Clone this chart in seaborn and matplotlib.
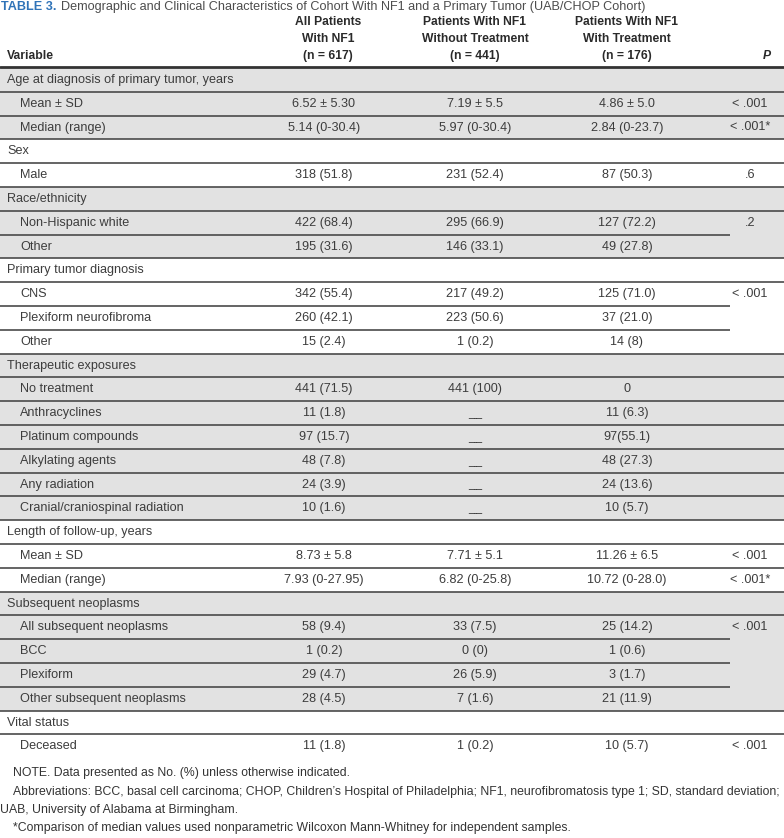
import matplotlib
matplotlib.use("Agg")
import matplotlib.pyplot as plt
from matplotlib import font_manager
import seaborn as sns
import pandas as pd

# ---------------- data ----------------
title_lead = "TABLE 3."
title_text = "Demographic and Clinical Characteristics of Cohort With NF1 and a Primary Tumor (UAB/CHOP Cohort)"

col_headers = [
    ["All Patients", "With NF1", "(n = 617)"],
    ["Patients With NF1", "Without Treatment", "(n = 441)"],
    ["Patients With NF1", "With Treatment", "(n = 176)"],
]

variables = ["Age at diagnosis of primary tumor, years", "Mean \u00b1 SD", "Median (range)",
             "Sex", "Male",
             "Race/ethnicity", "Non-Hispanic white", "Other",
             "Primary tumor diagnosis", "CNS", "Plexiform neurofibroma", "Other",
             "Therapeutic exposures", "No treatment", "Anthracyclines", "Platinum compounds",
             "Alkylating agents", "Any radiation", "Cranial/craniospinal radiation",
             "Length of follow-up, years", "Mean \u00b1 SD", "Median (range)",
             "Subsequent neoplasms", "All subsequent neoplasms", "BCC", "Plexiform",
             "Other subsequent neoplasms",
             "Vital status", "Deceased"]
levels = [0, 1, 1, 0, 1, 0, 1, 1, 0, 1, 1, 1, 0, 1, 1, 1, 1, 1, 1, 0, 1, 1, 0, 1, 1, 1, 1, 0, 1]
group_ids = [0, 0, 0, 1, 1, 2, 2, 2, 3, 3, 3, 3, 4, 4, 4, 4, 4, 4, 4, 5, 5, 5, 6, 6, 6, 6, 6, 7, 7]

all_patients = ["", "6.52 \u00b1 5.30", "5.14 (0-30.4)", "", "318 (51.8)", "", "422 (68.4)", "195 (31.6)",
                "", "342 (55.4)", "260 (42.1)", "15 (2.4)", "", "441 (71.5)", "11 (1.8)", "97 (15.7)",
                "48 (7.8)", "24 (3.9)", "10 (1.6)", "", "8.73 \u00b1 5.8", "7.93 (0-27.95)", "",
                "58 (9.4)", "1 (0.2)", "29 (4.7)", "28 (4.5)", "", "11 (1.8)"]
without_tx = ["", "7.19 \u00b1 5.5", "5.97 (0-30.4)", "", "231 (52.4)", "", "295 (66.9)", "146 (33.1)",
              "", "217 (49.2)", "223 (50.6)", "1 (0.2)", "", "441 (100)", "__", "__",
              "__", "__", "__", "", "7.71 \u00b1 5.1", "6.82 (0-25.8)", "",
              "33 (7.5)", "0 (0)", "26 (5.9)", "7 (1.6)", "", "1 (0.2)"]
with_tx = ["", "4.86 \u00b1 5.0", "2.84 (0-23.7)", "", "87 (50.3)", "", "127 (72.2)", "49 (27.8)",
           "", "125 (71.0)", "37 (21.0)", "14 (8)", "", "0", "11 (6.3)", "97(55.1)",
           "48 (27.3)", "24 (13.6)", "10 (5.7)", "", "11.26 \u00b1 6.5", "10.72 (0-28.0)", "",
           "25 (14.2)", "1 (0.6)", "3 (1.7)", "21 (11.9)", "", "10 (5.7)"]
p_values = ["", "< .001", "< .001*", "", ".6", "", ".2", "", "", "< .001", "", "", "", "", "", "",
            "", "", "", "", "< .001", "< .001*", "", "< .001", "", "", "", "", "< .001"]
# rows sharing one P value (separator lines stop before the P column)
p_span = [-1, -1, -1, -1, -1, -1, 1, 1, -1, 2, 2, 2, -1, -1, -1, -1, -1, -1, -1, -1, -1, -1, -1,
          3, 3, 3, 3, -1, -1]

footnotes = [
    "NOTE. Data presented as No. (%) unless otherwise indicated.",
    "Abbreviations: BCC, basal cell carcinoma; CHOP, Children\u2019s Hospital of Philadelphia; NF1, neurofibromatosis type 1; SD, standard deviation;",
    "UAB, University of Alabama at Birmingham.",
    "*Comparison of median values used nonparametric Wilcoxon Mann-Whitney for independent samples.",
]

df = pd.DataFrame({"variable": variables, "level": levels, "group": group_ids,
                   "all": all_patients, "without": without_tx, "with": with_tx,
                   "p": p_values, "span": p_span})

# ---------------- style ----------------
sns.set_theme(style="white")
names = {f.name for f in font_manager.fontManager.ttflist}
narrow = "Liberation Sans Narrow" if "Liberation Sans Narrow" in names else "Liberation Sans"
plt.rcParams["font.family"] = ["Liberation Sans", "DejaVu Sans"]

W, H = 784, 838
fig = plt.figure(figsize=(W / 100, H / 100), dpi=100)
ax = fig.add_axes([0, 0, 1, 1])
ax.set_xlim(0, W)
ax.set_ylim(H, 0)
ax.axis("off")
renderer = fig.canvas.get_renderer()

txt_col = "#3d3d3d"
shade = "#e2e2e2"
line_col = "#4a4a4a"
body_fs = 9.1
head_fs = 8.7

y0 = 68.0
rh = 23.8
x_cols = [324, 475, 627]
x_head = [328, 475, 627]
x_p = 750
p_cut = 730

# title
t1 = ax.text(1, 7, title_lead, fontsize=9.05, fontweight="bold", color="#2f73b8", va="center", ha="left")
bb = t1.get_window_extent(renderer)
ax.text(1 + bb.width + 5, 7, title_text, fontsize=9.05, color="#4d4d4d", va="center", ha="left")

# header
for j, lines in enumerate(col_headers):
    for k, s in enumerate(lines):
        ax.text(x_head[j], 22 + 17 * k, s, fontsize=head_fs, fontweight="bold", color="#2a2a2a",
                ha="center", va="center")
ax.text(7, 56, "Variable", fontsize=head_fs, fontweight="bold", color="#2a2a2a", va="center")
ax.text(767, 56, "P", fontsize=head_fs, fontweight="bold", fontstyle="italic", color="#2a2a2a",
        ha="center", va="center")

# shaded groups
n = len(df)
for g, sub in df.groupby("group"):
    if g % 2 == 0:
        top = y0 + sub.index.min() * rh
        bot = y0 + (sub.index.max() + 1) * rh
        ax.axhspan(top, bot, color=shade, lw=0, zorder=0)

# header rule
ax.axhline(y0 - 1, color="#333333", lw=2.0, zorder=3)

# separators
for i in range(n - 1):
    yb = y0 + (i + 1) * rh
    same = df.loc[i, "span"] >= 0 and df.loc[i, "span"] == df.loc[i + 1, "span"]
    xmax = p_cut if same else W
    ax.plot([0, xmax], [yb, yb], color=line_col, lw=1.2, solid_capstyle="butt", zorder=3)

# cells
for i, r in df.iterrows():
    yc = y0 + (i + 0.5) * rh
    xl = 7 if r["level"] == 0 else 20
    ax.text(xl, yc, r["variable"], fontsize=body_fs, color=txt_col, va="center", ha="left")
    for j, key in enumerate(["all", "without", "with"]):
        s = r[key]
        if s:
            ax.text(x_cols[j], yc, s, fontsize=body_fs, color=txt_col, va="center", ha="center")
    if r["p"]:
        ax.text(x_p, yc, r["p"], fontsize=body_fs, color=txt_col, va="center", ha="center")

# footnotes (fit the long line to the available width)
probe = ax.text(0, 0, footnotes[1], fontsize=8, family=[narrow, "DejaVu Sans"])
wpx = probe.get_window_extent(renderer).width
probe.remove()
fn_fs = 8 * 770 / wpx
fn_y = [773, 792, 810, 828]
fn_x = [13, 13, 0, 13]
for s, x, y in zip(footnotes, fn_x, fn_y):
    ax.text(x, y, s, fontsize=fn_fs, family=[narrow, "DejaVu Sans"], color="#333333",
            va="center", ha="left")

fig.savefig("out.png", dpi=100)
